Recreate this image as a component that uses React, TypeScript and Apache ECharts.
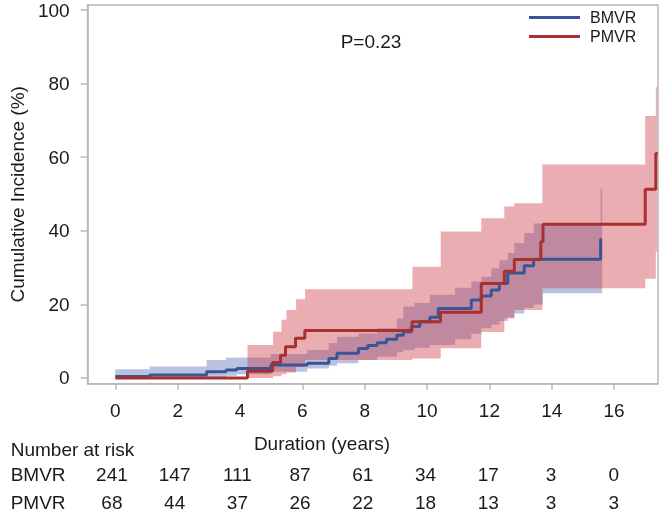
import React, { useEffect, useRef } from 'react';
import * as echarts from 'echarts';

// ---- Data ----
const xTicks = [0, 2, 4, 6, 8, 10, 12, 14, 16];
const yTicks = [0, 20, 40, 60, 80, 100];
const groups = ['BMVR', 'PMVR'];

// Kaplan-Meier cumulative incidence steps (time in years, value in %)
const bmvrTime = [0, 1.1, 2.93, 3.55, 3.9, 4.99, 6.16, 6.85, 7.11, 7.8, 8.1, 8.4, 8.7, 9.03, 9.24, 9.5, 9.77, 10.09, 10.36, 11.42, 11.74, 12.06, 12.32, 12.59, 13.12, 13.42, 15.57];
const bmvrCum = [0.4, 0.8, 1.7, 2.2, 2.6, 3.5, 4.0, 5.3, 6.7, 8.0, 8.8, 9.6, 10.5, 11.6, 12.6, 14.0, 15.3, 16.5, 18.9, 21.2, 22.3, 23.9, 25.7, 28.5, 30.5, 32.3, 37.7];
const bmvrEnd = 15.6;

const pmvrTime = [0, 4.24, 5.04, 5.3, 5.46, 5.78, 6.08, 9.52, 10.43, 11.74, 12.48, 12.8, 13.65, 13.72, 17.0, 17.34];
const pmvrCum = [0, 1.8, 4.2, 6.2, 8.5, 10.8, 12.9, 15.3, 17.9, 25.7, 29.0, 32.2, 37.0, 41.8, 51.3, 61.0];
const pmvrEnd = 17.4;

// Confidence bands
const bmvrCiTime = [0, 1.1, 2.93, 3.55, 3.9, 4.99, 6.16, 6.85, 7.11, 7.8, 8.4, 9.03, 9.24, 9.6, 10.09, 10.9, 11.42, 11.74, 12.06, 12.32, 12.59, 12.8, 13.12, 13.42, 13.72, 15.57];
const bmvrCiHigh = [2.4, 3.1, 4.9, 5.5, 5.6, 6.5, 7.6, 9.5, 11.2, 12.1, 13.5, 16.2, 19.4, 20.4, 22.6, 24.5, 26.2, 27.5, 29.8, 32.0, 34.0, 36.7, 39.4, 42.0, 42.0, 51.5];
const bmvrCiLow = [0, 0, 0.3, 0.6, 1.0, 1.7, 2.6, 3.3, 4.0, 4.9, 5.8, 7.0, 7.6, 8.2, 9.0, 10.5, 12.0, 13.5, 14.5, 15.5, 16.5, 17.5, 19.0, 20.0, 23.0, 23.0];
const bmvrCiEnd = 15.62;

const pmvrCiTime = [4.24, 5.06, 5.33, 5.49, 5.8, 6.09, 9.53, 10.44, 11.74, 12.48, 12.8, 13.7, 17.0, 17.34];
const pmvrCiHigh = [9.0, 12.6, 15.8, 18.5, 21.4, 24.1, 30.2, 39.8, 43.4, 46.6, 47.5, 58.0, 71.2, 79.0];
const pmvrCiLow = [0, 0.5, 1.0, 1.5, 3.0, 4.9, 5.3, 8.1, 12.5, 16.2, 18.5, 24.4, 27.0, 34.3];
const pmvrCiEnd = 17.38;

// Number at risk table
const riskTimes = [0, 2, 4, 6, 8, 10, 12, 14, 16];
const bmvrAtRisk = [241, 147, 111, 87, 61, 34, 17, 3, 0];
const pmvrAtRisk = [68, 44, 37, 26, 22, 18, 13, 3, 3];

const pValueText = 'P=0.23';

// ---- Styles ----
const FONT = '"Liberation Sans", Arial, Helvetica, sans-serif';
const TXT = '#1a1a1a';
const AXIS = '#b8b8b8';
const BLUE = '#3a5597';
const RED = '#a8302e';
const BLUE_BAND = 'rgba(70, 95, 175, 0.38)';
const RED_BAND = 'rgba(205, 60, 70, 0.42)';

function bandSeries(name: string, xs: number[], lo: number[], hi: number[], end: number, color: string, z: number) {
  return {
    type: 'custom',
    name,
    xAxisIndex: 0,
    yAxisIndex: 0,
    z,
    silent: true,
    data: [[xs[0], lo[0]]],
    renderItem: (_params: any, api: any) => {
      const pts: number[][] = [];
      const n = xs.length;
      for (let i = 0; i < n; i++) {
        const x0 = xs[i];
        const x1 = i < n - 1 ? xs[i + 1] : end;
        pts.push(api.coord([x0, hi[i]]));
        pts.push(api.coord([x1, hi[i]]));
      }
      for (let i = n - 1; i >= 0; i--) {
        const x0 = xs[i];
        const x1 = i < n - 1 ? xs[i + 1] : end;
        pts.push(api.coord([x1, lo[i]]));
        pts.push(api.coord([x0, lo[i]]));
      }
      return { type: 'polygon', shape: { points: pts }, style: { fill: color, stroke: null } };
    },
  };
}

function stepData(xs: number[], ys: number[], end: number) {
  const d = xs.map((x, i) => [x, ys[i]]);
  d.push([end, ys[ys.length - 1]]);
  return d;
}

export default function App() {
  const ref = useRef<HTMLDivElement>(null);
  useEffect(() => {
    if (!ref.current) return;
    const chart = echarts.init(ref.current, undefined, { renderer: 'svg' });
    const riskLabel = { show: true, position: 'inside', formatter: (p: any) => String(p.value[2]), fontSize: 19, color: TXT, fontFamily: FONT, opacity: 1 };
    const riskItem = { color: 'rgba(0,0,0,0)', opacity: 1 };
    const option: any = {
      animation: false,
      textStyle: { fontFamily: FONT },
      grid: [
        { left: 84, top: 5, width: 574, height: 378.7, show: true, borderColor: AXIS, borderWidth: 1.5, backgroundColor: 'transparent' },
        { left: 84, top: 474.7, width: 574, height: 30.6 },
      ],
      legend: {
        orient: 'vertical',
        left: 529,
        top: 8,
        padding: 0,
        itemGap: 0,
        itemWidth: 51,
        itemHeight: 3,
        icon: 'rect',
        data: groups,
        textStyle: { fontFamily: FONT, fontSize: 16, color: TXT, lineHeight: 19, padding: [0, 0, 0, 5] },
      },
      xAxis: [
        {
          type: 'value',
          gridIndex: 0,
          min: -0.89,
          max: 17.41,
          splitLine: { show: false },
          axisLine: { show: true, onZero: false, lineStyle: { color: AXIS, width: 1.5 } },
          axisTick: { show: true, length: 6, customValues: xTicks, lineStyle: { color: AXIS, width: 1.5 } },
          axisLabel: { customValues: xTicks, margin: 17, fontSize: 19, color: TXT, fontFamily: FONT },
        },
        { type: 'value', gridIndex: 1, min: -0.89, max: 17.41, show: false },
      ],
      yAxis: [
        {
          type: 'value',
          gridIndex: 0,
          min: -1.55,
          max: 101.36,
          splitLine: { show: false },
          axisLine: { show: true, onZero: false, lineStyle: { color: AXIS, width: 1.5 } },
          axisTick: { show: true, length: 7, customValues: yTicks, lineStyle: { color: AXIS, width: 1.5 } },
          axisLabel: { customValues: yTicks, margin: 18, fontSize: 19, color: TXT, fontFamily: FONT },
          name: 'Cumulative Incidence (%)',
          nameLocation: 'middle',
          nameGap: 60,
          nameTextStyle: { fontSize: 19, color: TXT, fontFamily: FONT },
        },
        {
          type: 'category',
          gridIndex: 1,
          data: groups,
          inverse: true,
          boundaryGap: false,
          axisLine: { show: false },
          axisTick: { show: false },
          splitLine: { show: false },
          axisLabel: { align: 'left', margin: 73.3, fontSize: 19, color: TXT, fontFamily: FONT },
        },
      ],
      graphic: [
        {
          type: 'text',
          x: 371,
          y: 41,
          style: { text: pValueText, fill: TXT, font: `19px ${FONT}`, textAlign: 'center', textVerticalAlign: 'middle', align: 'center', verticalAlign: 'middle' },
        },
        {
          type: 'text',
          x: 322,
          y: 443,
          style: { text: 'Duration (years)', fill: TXT, font: `19px ${FONT}`, textAlign: 'center', textVerticalAlign: 'middle', align: 'center', verticalAlign: 'middle' },
        },
        {
          type: 'text',
          x: 10.7,
          y: 449,
          style: { text: 'Number at risk', fill: TXT, font: `19px ${FONT}`, textAlign: 'left', textVerticalAlign: 'middle', align: 'left', verticalAlign: 'middle' },
        },
      ],
      series: [
        bandSeries('BMVR CI', bmvrCiTime, bmvrCiLow, bmvrCiHigh, bmvrCiEnd, BLUE_BAND, 1),
        bandSeries('PMVR CI', pmvrCiTime, pmvrCiLow, pmvrCiHigh, pmvrCiEnd, RED_BAND, 2),
        {
          type: 'line',
          name: 'BMVR',
          xAxisIndex: 0,
          yAxisIndex: 0,
          step: 'end',
          showSymbol: false,
          symbol: 'none',
          z: 3,
          color: BLUE,
          lineStyle: { color: BLUE, width: 3 },
          data: stepData(bmvrTime, bmvrCum, bmvrEnd),
        },
        {
          type: 'line',
          name: 'PMVR',
          xAxisIndex: 0,
          yAxisIndex: 0,
          step: 'end',
          showSymbol: false,
          symbol: 'none',
          z: 4,
          color: RED,
          lineStyle: { color: RED, width: 3 },
          data: stepData(pmvrTime, pmvrCum, pmvrEnd),
        },
        {
          type: 'scatter',
          name: 'BMVR at risk',
          xAxisIndex: 1,
          yAxisIndex: 1,
          symbolSize: 1,
          itemStyle: riskItem,
          silent: true,
          label: riskLabel,
          data: riskTimes.map((t, i) => [t, 'BMVR', bmvrAtRisk[i]]),
        },
        {
          type: 'scatter',
          name: 'PMVR at risk',
          xAxisIndex: 1,
          yAxisIndex: 1,
          symbolSize: 1,
          itemStyle: riskItem,
          silent: true,
          label: riskLabel,
          data: riskTimes.map((t, i) => [t, 'PMVR', pmvrAtRisk[i]]),
        },
      ],
    };
    chart.setOption(option);
    return () => chart.dispose();
  }, []);
  return <div ref={ref} style={{ position: 'fixed', left: 0, top: 0, width: 665, height: 512 }} />;
}
